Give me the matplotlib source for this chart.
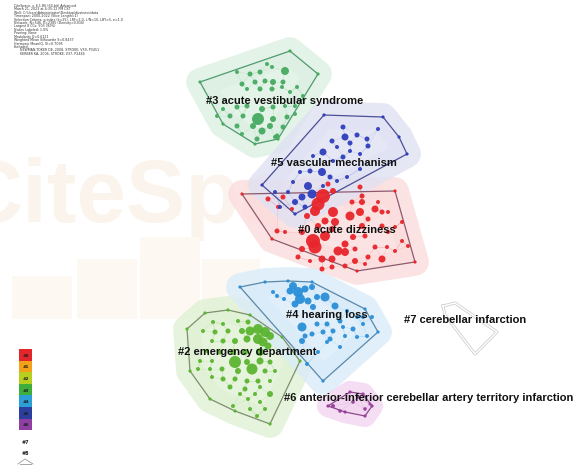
import matplotlib
matplotlib.use("Agg")
import matplotlib.pyplot as plt
from matplotlib.patches import Polygon, Rectangle
import numpy as np

# ---------------- data ----------------
cluster_ids = [0, 2, 3, 4, 5, 6, 7]
cluster_labels = {
    0: "#0 acute dizziness",
    2: "#2 emergency department",
    3: "#3 acute vestibular syndrome",
    4: "#4 hearing loss",
    5: "#5 vascular mechanism",
    6: "#6 anterior-inferior cerebellar artery territory infarction",
    7: "#7 cerebellar infarction",
}
label_pos = {0: (298, 230), 2: (178, 352), 3: (206, 101), 4: (286, 315),
             5: (271, 163), 6: (284, 398), 7: (404, 320)}

node_color = {0: "#e8252b", 2: "#5cb531", 3: "#46ab62", 4: "#2a8fd8",
              5: "#2f3fbd", 6: "#9a3f9c", 7: "#c8c8c8"}
hull_color = {0: "#8c5a6e", 2: "#7d8f6c", 3: "#4f9a6e", 4: "#5a88aa",
              5: "#4b4f96", 6: "#8a4a8a", 7: "#bdbdbd"}
halo_color = {0: "#fcdcdc", 2: "#e0f1d5", 3: "#dcf0e2", 4: "#d9ecf9",
              5: "#e0e1f3", 6: "#f3d6f1", 7: None}

hull_0 = [(242, 195), (395, 192), (415, 263), (357, 272), (272, 240)]
hull_2 = [(187, 330), (205, 314), (228, 311), (250, 316), (282, 338),
          (300, 362), (270, 425), (235, 412), (210, 400), (190, 372)]
hull_3 = [(200, 83), (290, 52), (318, 75), (278, 140), (255, 145), (223, 125)]
hull_4 = [(240, 288), (265, 283), (288, 282), (312, 283), (365, 310),
          (378, 333), (323, 382)]
hull_5 = [(324, 116), (383, 118), (399, 138), (407, 155), (295, 215), (262, 186)]
hull_6 = [(328, 407), (350, 393), (363, 395), (372, 407), (365, 417), (345, 413)]
hull_7 = [(443, 307), (455, 304), (497, 333), (475, 355), (445, 316)]

# nodes as (x, y, radius)
nodes_0 = [(323, 197, 7), (318, 205, 6.5), (315, 212, 5), (333, 213, 5),
           (350, 217, 4.5), (360, 213, 4), (313, 242, 7), (315, 248, 6.5),
           (325, 237, 5), (338, 252, 4.5), (345, 253, 4), (322, 260, 3.5),
           (332, 260, 3.5), (335, 223, 4), (325, 222, 3.5), (345, 245, 3.5),
           (353, 238, 3), (362, 227, 3), (365, 237, 2.5), (368, 220, 2.5),
           (375, 210, 3.5), (382, 227, 2.5), (388, 233, 2), (395, 228, 2),
           (402, 223, 2), (382, 213, 2.5), (388, 213, 2), (362, 203, 3),
           (352, 203, 2.5), (362, 197, 2.5), (378, 203, 2), (360, 188, 2.5),
           (333, 192, 3), (328, 185, 2.5), (277, 232, 2.5), (285, 233, 2),
           (268, 200, 2.5), (278, 208, 2), (283, 198, 2.5), (307, 217, 3),
           (302, 233, 3), (302, 250, 3), (322, 270, 2.5), (332, 268, 2.5),
           (355, 262, 3), (368, 258, 2.5), (382, 260, 3.5), (395, 252, 2),
           (402, 242, 2), (408, 247, 2), (355, 250, 2.5), (375, 248, 2.5),
           (387, 248, 2), (332, 230, 3), (318, 227, 3), (365, 265, 2),
           (345, 267, 2.5), (292, 210, 2), (298, 258, 2.5), (310, 262, 2)]
nodes_5 = [(343, 128, 2.5), (357, 136, 2.5), (345, 138, 3.5), (367, 140, 2.5),
           (332, 142, 2.5), (350, 144, 2.5), (337, 148, 2), (368, 147, 2.5),
           (323, 153, 3.5), (350, 152, 2), (360, 155, 2), (313, 157, 2),
           (343, 158, 2.5), (333, 162, 2), (310, 172, 2.5), (322, 173, 4),
           (300, 173, 2), (330, 178, 2.5), (337, 182, 2), (293, 183, 2),
           (308, 187, 4), (323, 187, 2), (347, 178, 2), (360, 170, 2),
           (312, 195, 4.5), (302, 198, 3.5), (295, 203, 3), (305, 208, 2.5),
           (275, 193, 2), (288, 193, 2), (280, 208, 2), (378, 130, 2)]
nodes_3 = [(237, 73, 2), (250, 75, 2.5), (260, 73, 2.5), (272, 68, 2),
           (285, 72, 4), (267, 65, 2), (242, 85, 2.5), (255, 83, 2.5),
           (265, 82, 2.5), (273, 83, 3), (283, 83, 2.5), (247, 90, 2),
           (260, 90, 2.5), (272, 90, 2.5), (282, 88, 2), (290, 93, 2),
           (297, 88, 2), (303, 97, 2), (223, 110, 2), (237, 108, 2.5),
           (247, 107, 2.5), (262, 110, 3), (273, 108, 2.5), (285, 107, 2),
           (295, 107, 2), (217, 117, 2), (230, 117, 2.5), (243, 117, 2.5),
           (258, 120, 6), (273, 120, 3), (287, 118, 2.5), (295, 115, 2),
           (237, 127, 2.5), (253, 127, 3), (270, 127, 3), (283, 128, 2.5),
           (242, 135, 2), (262, 132, 3.5), (277, 137, 2.5), (257, 140, 2.5),
           (275, 138, 2)]
nodes_4 = [(293, 287, 4), (298, 293, 5), (305, 290, 3.5), (312, 288, 3),
           (290, 292, 3.5), (300, 300, 5), (308, 302, 3.5), (317, 298, 3),
           (325, 298, 4.5), (295, 305, 3.5), (313, 308, 3), (335, 307, 3.5),
           (277, 297, 2), (273, 293, 2), (347, 312, 2), (357, 318, 2),
           (340, 322, 2.5), (327, 325, 2.5), (317, 325, 2.5), (302, 328, 4.5),
           (312, 335, 2.5), (323, 333, 2.5), (333, 332, 2.5), (343, 328, 2),
           (353, 330, 2.5), (363, 325, 2), (367, 337, 2), (357, 338, 2),
           (345, 337, 2), (330, 340, 2.5), (327, 343, 2), (302, 342, 3),
           (305, 337, 2.5), (340, 348, 2), (318, 353, 2), (307, 365, 2),
           (363, 318, 2), (372, 318, 2), (284, 300, 2)]
nodes_2 = [(213, 323, 2), (223, 325, 2), (238, 322, 2), (248, 323, 2.5),
           (203, 332, 2), (215, 333, 2.5), (228, 332, 2.5), (242, 332, 3),
           (250, 332, 4.5), (258, 330, 5), (265, 333, 5), (270, 337, 4),
           (258, 340, 5), (247, 340, 3.5), (235, 342, 3), (223, 342, 2.5),
           (212, 342, 2), (263, 343, 4.5), (268, 347, 3.5), (207, 352, 2),
           (220, 353, 2.5), (233, 353, 3), (245, 353, 3), (260, 353, 4),
           (200, 362, 2), (212, 362, 2), (235, 363, 6), (247, 363, 3),
           (260, 362, 3.5), (270, 363, 2.5), (252, 370, 5.5), (198, 370, 2),
           (210, 370, 2), (222, 370, 2.5), (238, 372, 3), (265, 372, 2.5),
           (275, 372, 2), (212, 378, 2), (223, 380, 2.5), (235, 380, 2.5),
           (247, 382, 2.5), (258, 382, 2.5), (270, 382, 2), (230, 388, 2.5),
           (245, 390, 2.5), (260, 388, 2), (240, 395, 2), (255, 395, 2),
           (270, 395, 3), (248, 400, 2), (260, 403, 2), (233, 407, 2),
           (250, 410, 2), (265, 410, 2), (257, 417, 2)]
nodes_6 = [(333, 407, 2), (353, 403, 1.8), (340, 412, 1.8), (365, 410, 1.8),
           (358, 398, 1.8), (370, 405, 1.5)]
nodes_7 = []

hulls = {0: hull_0, 2: hull_2, 3: hull_3, 4: hull_4, 5: hull_5, 6: hull_6, 7: hull_7}
nodes = {0: nodes_0, 2: nodes_2, 3: nodes_3, 4: nodes_4, 5: nodes_5, 6: nodes_6, 7: nodes_7}

legend_ids = ["#0", "#1", "#2", "#3", "#4", "#5", "#6"]
legend_colors = ["#e3262b", "#f2a219", "#b7cf1f", "#3fae3b", "#2b9fd6",
                 "#2c3f9e", "#8e3fa0"]
legend_extra = ["#7", "#8"]

header_lines = [
    "CiteSpace, v. 6.1.R6 (64-bit) Advanced",
    "March 21, 2023 at 4:35:12 PM CST",
    "WoS: C:\\Users\\Administrator\\Desktop\\dizziness\\data",
    "Timespan: 2000-2022 (Slice Length=1)",
    "Selection Criteria: g-index (k=25), LRF=3.0, L/N=10, LBY=5, e=1.0",
    "Network: N=546, E=2385 (Density=0.016)",
    "Largest 8 CCs: 503 (92%)",
    "Nodes Labeled: 1.0%",
    "Pruning: None",
    "Modularity Q=0.6121",
    "Weighted Mean Silhouette S=0.8437",
    "Harmonic Mean(Q, S)=0.7095",
    "Excluded:",
    "   NEWMAN-TOKER DE, 2008, STROKE, V39, P3451",
    "   KERBER KA, 2006, STROKE, V37, P2484",
]

# watermark bars (logo skyline) : left, top, width
wm_bars = [(12, 277, 60), (77, 260, 60), (140, 238, 60), (202, 260, 58)]

# ---------------- drawing ----------------
W, H = 577, 477
fig = plt.figure(figsize=(W / 100, H / 100), dpi=100)
ax = fig.add_axes([0, 0, 1, 1])
ax.set_xlim(0, W)
ax.set_ylim(H, 0)
ax.axis("off")

PX = 72 / 100  # points per pixel

# faint logo watermark behind the network
ax.text(-42, 222, "CiteSpace", fontsize=64, fontweight="bold",
        color="#fbf4ec", family="Liberation Sans", va="baseline", ha="left",
        zorder=0, clip_on=True)
for left, top, w in wm_bars:
    ax.add_patch(Rectangle((left, top), w, 320 - top, facecolor="#fdf8f1",
                           edgecolor="none", zorder=0))

# halos
for cid in cluster_ids:
    hc = halo_color[cid]
    if hc is None:
        continue
    lw = 20 if cid != 6 else 16
    ax.add_patch(Polygon(hulls[cid], closed=True, facecolor=hc, edgecolor=hc,
                         linewidth=lw, joinstyle="round", alpha=0.8, zorder=1))

# faint links between neighbouring nodes
for cid in cluster_ids:
    pts = np.array([(x, y) for x, y, r in nodes[cid]]) if nodes[cid] else None
    if pts is None or len(pts) < 3:
        continue
    for i, p in enumerate(pts):
        d = np.hypot(*(pts - p).T)
        for j in np.argsort(d)[1:3]:
            ax.plot([p[0], pts[j][0]], [p[1], pts[j][1]], color=node_color[cid],
                    lw=0.4, alpha=0.15, zorder=2)

# hull outlines with vertex nodes
for cid in cluster_ids:
    hx = [p[0] for p in hulls[cid]] + [hulls[cid][0][0]]
    hy = [p[1] for p in hulls[cid]] + [hulls[cid][0][1]]
    if cid == 7:
        ax.plot(hx, hy, color="#d0d0d0", lw=2.2, zorder=3, solid_joinstyle="round")
        ax.plot(hx, hy, color="white", lw=1.0, zorder=3, solid_joinstyle="round")
        continue
    ax.plot(hx, hy, color=hull_color[cid], lw=0.9, zorder=3)
    ax.scatter(hx[:-1], hy[:-1], s=(2 * 1.6 * PX) ** 2,
               color=node_color[cid], edgecolors="none", zorder=4)

# nodes
for cid in cluster_ids:
    if not nodes[cid]:
        continue
    xs = [n[0] for n in nodes[cid]]
    ys = [n[1] for n in nodes[cid]]
    ss = [(2 * n[2] * PX) ** 2 for n in nodes[cid]]
    ax.scatter(xs, ys, s=ss, color=node_color[cid], edgecolors="none",
               alpha=0.95, zorder=5)

# cluster labels
for cid in cluster_ids:
    x, y = label_pos[cid]
    ax.text(x, y, cluster_labels[cid], fontsize=8, fontweight="bold",
            family="Liberation Sans", color="#111111", ha="left", va="center",
            zorder=10)

# header text
for i, line in enumerate(header_lines):
    indent = 6 if line.startswith("   ") else 0
    ax.text(14 + indent, 6 + i * 3.4, line.strip(), fontsize=2.3,
            color="#333333", ha="left", va="center", zorder=10)

# colour legend
cell_h = 11.6
for i, (lab, col) in enumerate(zip(legend_ids, legend_colors)):
    top = 350 + i * cell_h
    ax.add_patch(Rectangle((19, top), 13, cell_h, facecolor=col,
                           edgecolor="none", zorder=8))
    ax.text(25.5, top + cell_h / 2, lab, fontsize=3, color="#1a1a1a",
            ha="center", va="center", fontweight="bold", zorder=9)
for i, lab in enumerate(legend_extra):
    ax.text(25.5, 443 + i * 11, lab, fontsize=3.5, color="#222222",
            ha="center", va="center", fontweight="bold", zorder=9)
ax.plot([18, 25, 33], [465, 460, 465], color="#999999", lw=0.6, zorder=9)
ax.plot([20, 31], [465, 465], color="#999999", lw=0.6, zorder=9)

fig.savefig("out.png", dpi=100)
